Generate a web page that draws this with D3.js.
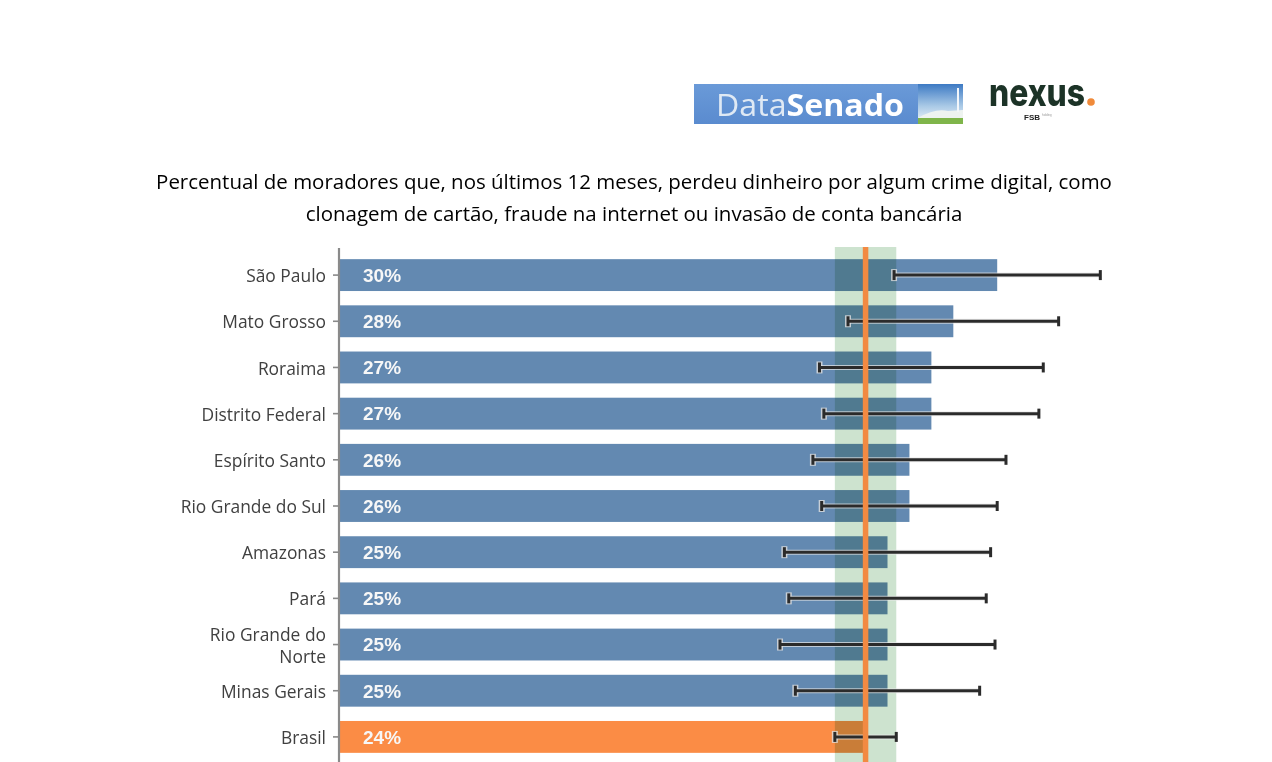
<!DOCTYPE html>
<html>
<head>
<meta charset="utf-8">
<script src="https://cdn.jsdelivr.net/npm/d3@7"></script>
<style>
  html, body { margin: 0; padding: 0; background: #fff; }
  svg { display: block; }
</style>
</head>
<body>
<svg id="chart" width="1272" height="762"></svg>
<script>
const categories = ["São Paulo","Mato Grosso","Roraima","Distrito Federal","Espírito Santo","Rio Grande do Sul","Amazonas","Pará","Rio Grande do Norte","Minas Gerais","Brasil"];
const values = [30, 28, 27, 27, 26, 26, 25, 25, 25, 25, 24];
const lower  = [25.3, 23.2, 21.9, 22.1, 21.6, 22.0, 20.3, 20.5, 20.1, 20.8, 22.6];
const upper  = [34.7, 32.8, 32.1, 31.9, 30.4, 30.0, 29.7, 29.5, 29.9, 29.2, 25.4];
const titleLines = ["Percentual de moradores que, nos últimos 12 meses, perdeu dinheiro por algum crime digital, como",
                    "clonagem de cartão, fraude na internet ou invasão de conta bancária"];
const totalLabel = "Brasil";

const data = categories.map((c, i) => ({cat: c, v: values[i], lo: lower[i], hi: upper[i]}));
const svg = d3.select("#chart");

// ---- logos ----
const defs = svg.append("defs");
const g1 = defs.append("linearGradient").attr("id","dsBlue").attr("x1",0).attr("x2",0).attr("y1",0).attr("y2",1);
g1.append("stop").attr("offset","0%").attr("stop-color","#6a9ad8");
g1.append("stop").attr("offset","100%").attr("stop-color","#5a8bcf");
const g2 = defs.append("linearGradient").attr("id","dsSky").attr("x1",0).attr("x2",0).attr("y1",0).attr("y2",1);
g2.append("stop").attr("offset","0%").attr("stop-color","#3d7ac4");
g2.append("stop").attr("offset","55%").attr("stop-color","#a9c9e6");
g2.append("stop").attr("offset","100%").attr("stop-color","#f4f8fb");

const logo = svg.append("g");
logo.append("rect").attr("x",694).attr("y",84).attr("width",269).attr("height",40).attr("fill","url(#dsBlue)");
logo.append("rect").attr("x",918).attr("y",84).attr("width",45).attr("height",40).attr("fill","url(#dsSky)");
logo.append("path").attr("d","M918,118 Q935,108 948,111 L963,110 L963,124 L918,124 Z").attr("fill","#eef3f0");
logo.append("rect").attr("x",918).attr("y",118).attr("width",45).attr("height",6).attr("fill","#7fb54a");
logo.append("rect").attr("x",957).attr("y",88).attr("width",2).attr("height",24).attr("fill","#f2f6fa");
const dsText = logo.append("text").attr("x",716).attr("y",116)
  .attr("font-family","'Open Sans', 'DejaVu Sans', sans-serif").attr("font-size",31);
dsText.append("tspan").attr("fill","#dfe9f4").text("Data");
dsText.append("tspan").attr("fill","#ffffff").attr("font-weight","bold").text("Senado");
dsText.attr("textLength",188).attr("lengthAdjust","spacingAndGlyphs");

logo.append("text").attr("x",989).attr("y",106)
  .attr("font-family","Inter, 'Open Sans', sans-serif").attr("font-weight",800).attr("font-size",38)
  .attr("fill","#1c3327").attr("textLength",96).attr("lengthAdjust","spacingAndGlyphs").text("nexus");
logo.append("circle").attr("cx",1091).attr("cy",102).attr("r",3.8).attr("fill","#f08a3a");
logo.append("text").attr("x",1024).attr("y",120)
  .attr("font-family","'Liberation Sans', Arial, sans-serif").attr("font-weight","bold").attr("font-size",8)
  .attr("fill","#222").text("FSB");
logo.append("text").attr("x",1042).attr("y",116)
  .attr("font-family","'Liberation Sans', Arial, sans-serif").attr("font-size",3)
  .attr("fill","#999").text("holding");

// ---- title ----
const title = svg.append("g");
const tl = title.selectAll("text").data(titleLines).join("text")
  .attr("x", 634).attr("y", (d, i) => 189 + i * 32)
  .attr("text-anchor","middle")
  .attr("font-family","'Open Sans', 'Noto Sans', sans-serif")
  .attr("font-size", 20).attr("fill","#000").text(d => d);
const w0 = tl.nodes()[0].getComputedTextLength();
const fs = 20 * 956 / w0;
tl.attr("font-size", fs);

// ---- scales ----
const x = d3.scaleLinear().domain([0, 35]).range([339, 339 + 35 * 21.94]);
const y = d3.scaleBand().domain(categories).range([252, 760]).paddingInner(0.31).paddingOuter(0.155);

const plot = svg.append("g");
const brasil = data.find(d => d.cat === totalLabel);

// bars
plot.selectAll("rect.bar").data(data).join("rect").attr("class","bar")
  .attr("x", x(0) + 1).attr("y", d => y(d.cat))
  .attr("width", d => x(d.v) - x(0) - 1).attr("height", y.bandwidth())
  .attr("fill", d => d.cat === totalLabel ? "#fb8c45" : "#6389b1");

// value labels
plot.selectAll("text.val").data(data).join("text").attr("class","val")
  .attr("x", x(0) + 24).attr("y", d => y(d.cat) + y.bandwidth() / 2)
  .attr("dy","0.36em")
  .attr("font-family","'Liberation Sans', Arial, sans-serif").attr("font-weight","bold")
  .attr("font-size", 19).attr("fill","#f7f7f7")
  .text(d => d.v + "%");

// confidence band of Brasil (multiply blend)
plot.append("rect")
  .attr("x", x(brasil.lo)).attr("y", 247)
  .attr("width", x(brasil.hi) - x(brasil.lo)).attr("height", 762 - 247)
  .attr("fill", "#cde3cf").style("mix-blend-mode","multiply");

// error bars
const eb = plot.selectAll("g.eb").data(data).join("g").attr("class","eb")
  .attr("transform", d => `translate(0,${y(d.cat) + y.bandwidth() / 2})`);
eb.append("line").attr("x1", d => x(d.lo)).attr("x2", d => x(d.hi))
  .attr("stroke","#e8e8e8").attr("stroke-width",5).attr("stroke-opacity",0.7);
eb.append("line").attr("x1", d => x(d.lo)).attr("x2", d => x(d.lo)).attr("y1",-6).attr("y2",6)
  .attr("stroke","#e0e0e0").attr("stroke-width",6).attr("stroke-opacity",0.8);
eb.append("line").attr("x1", d => x(d.lo)).attr("x2", d => x(d.hi))
  .attr("stroke","#2b2b2b").attr("stroke-width",3);
eb.selectAll("line.cap").data(d => [d.lo, d.hi]).join("line").attr("class","cap")
  .attr("x1", v => x(v)).attr("x2", v => x(v)).attr("y1",-5).attr("y2",5)
  .attr("stroke","#2b2b2b").attr("stroke-width",3);

// Brasil reference line
plot.append("line")
  .attr("x1", x(brasil.v)).attr("x2", x(brasil.v)).attr("y1", 247).attr("y2", 762)
  .attr("stroke","#f28a42").attr("stroke-width",5.5);

// y axis
const labelSize = 17.4;
const yAxis = d3.axisLeft(y).tickSize(6).tickPadding(6);
const ax = svg.append("g").attr("transform", `translate(${x(0)},0)`).call(yAxis);
ax.select(".domain").remove();
ax.selectAll(".tick line").attr("stroke","#8a8a8a").attr("stroke-width",1.6);
ax.selectAll(".tick text")
  .attr("font-family","'Open Sans', 'Noto Sans', sans-serif")
  .attr("font-size", labelSize).attr("fill","#404040");
svg.append("line").attr("x1", x(0)).attr("x2", x(0)).attr("y1", 248).attr("y2", 762)
  .attr("stroke","#8a8a8a").attr("stroke-width",2.2);

// wrap long labels
ax.selectAll(".tick text").each(function() {
  const t = d3.select(this);
  const words = t.text().split(" ");
  const maxW = 160;
  const lines = [];
  let cur = [];
  t.text(null);
  const probe = t.append("tspan");
  words.forEach(w => {
    probe.text([...cur, w].join(" "));
    if (probe.node().getComputedTextLength() > maxW && cur.length) { lines.push(cur.join(" ")); cur = [w]; }
    else cur.push(w);
  });
  lines.push(cur.join(" "));
  probe.remove();
  const lh = 22;
  lines.forEach((ln, i) => {
    t.append("tspan").attr("x", -13).attr("dy", i === 0 ? (0.32 * labelSize + 1.5 - (lines.length - 1) * lh / 2) + "px" : lh + "px").text(ln);
  });
  t.attr("dy", null);
});
</script>
</body>
</html>
